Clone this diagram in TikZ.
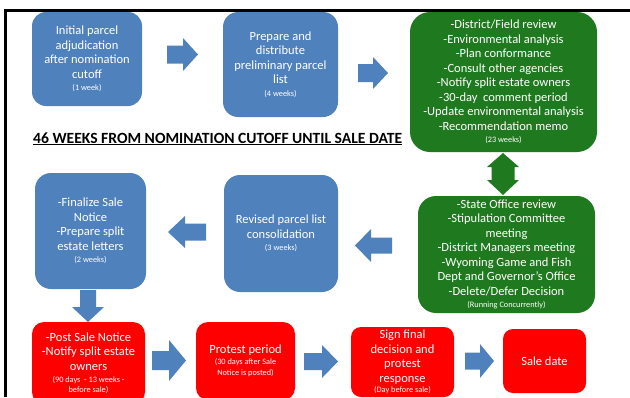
\documentclass[tikz,border=0pt]{standalone}
\usepackage{fontspec}
\setmainfont{Carlito}
\definecolor{bblue}{HTML}{4F81BD}
\definecolor{bgreen}{HTML}{1F7A1F}
\definecolor{bred}{HTML}{FF0000}
\newcommand\sm[1]{{\fontsize{8.3}{9}\selectfont #1}}
% block arrow: colour, tail, head base, tip, centre, shaft half, head half
\newcommand\harr[7]{\fill[#1] (#2,{#5-#6}) -- (#3,{#5-#6}) -- (#3,{#5-#7}) -- (#4,#5) -- (#3,{#5+#7}) -- (#3,{#5+#6}) -- (#2,{#5+#6}) -- cycle;}
\newcommand\varr[7]{\fill[#1] ({#5-#6},#2) -- ({#5-#6},#3) -- ({#5-#7},#3) -- (#5,#4) -- ({#5+#7},#3) -- ({#5+#6},#3) -- ({#5+#6},#2) -- cycle;}
\begin{document}
\begin{tikzpicture}[x=1pt,y=-1pt,
  box/.style={rectangle, inner sep=0pt, text=white, align=center,
    font=\fontsize{12.5}{14.5}\selectfont},
  bluebox/.style={box, fill=bblue},
  greenbox/.style={box, fill=bgreen},
  redbox/.style={box, fill=bred}]
\useasboundingbox (0,0) rectangle (630,397);
\clip (0,0) rectangle (630,397);
% frame
\draw[line width=2.6pt] (5.3,397) -- (5.3,10.3) -- (630,10.3);
% boxes
\node[bluebox, minimum width=110pt, minimum height=94pt, rounded corners=14pt] (b1) at (87,59)
  {Initial parcel\\adjudication\\after nomination\\cutoff\\[-2.2pt]\sm{(1 week)}};
\node[bluebox, minimum width=115pt, minimum height=105pt, rounded corners=15pt] (b2) at (280.5,64.5)
  {Prepare and\\distribute\\preliminary parcel\\list\\[-2.2pt]\sm{(4 weeks)}};
\node[greenbox, minimum width=187pt, minimum height=140pt, rounded corners=20pt] (b3) at (503.5,82)
  {-District/Field review\\-Environmental analysis\\-Plan conformance\\-Consult other agencies\\-Notify split estate owners\\-30-day\ \ comment period\\-Update environmental analysis\\-Recommendation memo\\[-2.2pt]\sm{(23 weeks)}};
\node[greenbox, minimum width=177pt, minimum height=117pt, rounded corners=18pt] (b4) at (506.5,254.5)
  {-State Office review\\-Stipulation Committee\\meeting\\-District Managers meeting\\-Wyoming Game and Fish\\Dept and Governor’s Office\\-Delete/Defer Decision\\[-2.2pt]\sm{(Running Concurrently)}};
\node[bluebox, minimum width=114pt, minimum height=117pt, rounded corners=16pt] (b5) at (281,233.5)
  {Revised parcel list\\consolidation\\[-2.2pt]\sm{(3 weeks)}};
\node[bluebox, minimum width=111pt, minimum height=116pt, rounded corners=16pt] (b6) at (90.5,231)
  {-Finalize Sale\\Notice\\-Prepare split\\estate letters\\[-2.2pt]\sm{(2 weeks)}};
\node[redbox, minimum width=113pt, minimum height=82pt, rounded corners=12pt] (b7) at (88.5,363)
  {-Post Sale Notice\\-Notify split estate\\owners\\[-2.2pt]\sm{(90 days\ \ - 13 weeks -}\\[-4.8pt]\sm{before sale)}};
\node[redbox, minimum width=99pt, minimum height=78pt, rounded corners=12pt] (b8) at (245.5,361)
  {Protest period\\[-3pt]\sm{(30 days after Sale}\\[-3.5pt]\sm{Notice is posted)}};
\node[redbox, minimum width=103pt, minimum height=70pt, rounded corners=10pt] (b9) at (402.5,362)
  {Sign final\\decision and\\protest\\response\\[-4pt]\sm{(Day before sale)}};
\node[redbox, minimum width=83pt, minimum height=64pt, rounded corners=10pt] (b10) at (544.5,361)
  {Sale date};
% title
\node[anchor=base west, inner sep=0pt, font=\fontsize{15.6}{17}\selectfont\bfseries] (title) at (33,143)
  {\underline{46 WEEKS FROM NOMINATION CUTOFF UNTIL SALE DATE}};
% block arrows
\harr{bblue}{167}{183}{198}{54.5}{9}{16.5}
\harr{bblue}{358}{373}{388}{73}{9}{16}
\harr{bblue}{392}{371}{355}{245.5}{8}{16.5}
\harr{bblue}{206}{185}{168}{232}{8.5}{16}
\harr{bblue}{152}{169}{186}{360.5}{9.5}{20.5}
\harr{bblue}{304}{322}{338}{361.5}{8.5}{16.5}
\harr{bblue}{465}{480}{494}{361}{8.5}{17}
\varr{bblue}{290}{307}{322}{88}{8}{16}
% double green arrow
\fill[bgreen] (503,153) -- (519,167) -- (514.5,167) -- (514.5,180) -- (519,180) -- (503,195)
  -- (487,180) -- (491.5,180) -- (491.5,167) -- (487,167) -- cycle;
\end{tikzpicture}
\end{document}
